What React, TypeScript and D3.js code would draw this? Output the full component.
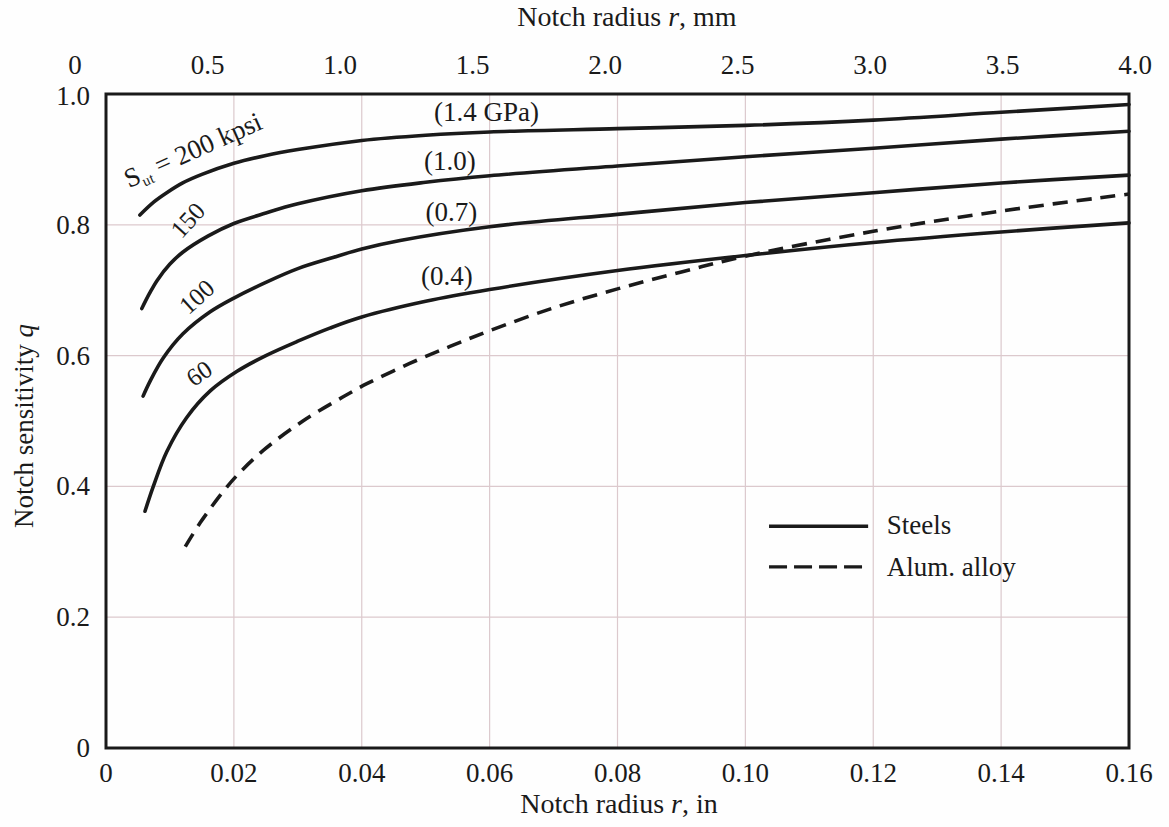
import React from "react";
import * as d3 from "d3";

// ---- data ----
const xTicksIn = [0, 0.02, 0.04, 0.06, 0.08, 0.1, 0.12, 0.14, 0.16];
const xTickLabelsIn = ["0", "0.02", "0.04", "0.06", "0.08", "0.10", "0.12", "0.14", "0.16"];
const xTicksMm = [0, 0.5, 1.0, 1.5, 2.0, 2.5, 3.0, 3.5, 4.0];
const xTickLabelsMm = ["0", "0.5", "1.0", "1.5", "2.0", "2.5", "3.0", "3.5", "4.0"];
const yTicks = [0, 0.2, 0.4, 0.6, 0.8, 1.0];
const yTickLabels = ["0", "0.2", "0.4", "0.6", "0.8", "1.0"];

// Steel, Sut = 200 kpsi (1.4 GPa)
const r200 = [0.0053, 0.0075, 0.0095, 0.012, 0.015, 0.02, 0.025, 0.03, 0.04, 0.05, 0.06, 0.08, 0.1, 0.12, 0.14, 0.16];
const q200 = [0.815, 0.835, 0.849, 0.864, 0.877, 0.894, 0.906, 0.915, 0.929, 0.937, 0.942, 0.947, 0.952, 0.96, 0.972, 0.984];
// Steel, 150 kpsi (1.0 GPa)
const r150 = [0.0056, 0.0068, 0.008, 0.01, 0.012, 0.016, 0.02, 0.025, 0.03, 0.04, 0.05, 0.06, 0.08, 0.1, 0.12, 0.14, 0.16];
const q150 = [0.672, 0.695, 0.715, 0.74, 0.758, 0.783, 0.802, 0.818, 0.832, 0.852, 0.865, 0.875, 0.89, 0.904, 0.917, 0.931, 0.943];
// Steel, 100 kpsi (0.7 GPa)
const r100 = [0.0058, 0.0069, 0.009, 0.012, 0.0163, 0.02, 0.025, 0.03, 0.0355, 0.04, 0.046, 0.06, 0.08, 0.1, 0.12, 0.14, 0.16];
const q100 = [0.538, 0.561, 0.597, 0.633, 0.667, 0.688, 0.712, 0.733, 0.75, 0.763, 0.776, 0.797, 0.816, 0.834, 0.849, 0.864, 0.876];
// Steel, 60 kpsi (0.4 GPa)
const r60 = [0.0061, 0.0074, 0.0095, 0.0126, 0.0163, 0.0205, 0.025, 0.03, 0.035, 0.04, 0.05, 0.06, 0.08, 0.1, 0.12, 0.14, 0.16];
const q60 = [0.362, 0.4, 0.453, 0.505, 0.546, 0.576, 0.6, 0.622, 0.642, 0.659, 0.683, 0.701, 0.73, 0.753, 0.773, 0.789, 0.803];
// Aluminum alloy
const rAl = [0.0124, 0.0147, 0.0184, 0.0207, 0.0246, 0.0308, 0.0371, 0.0408, 0.0475, 0.0538, 0.06, 0.07, 0.08, 0.09, 0.1, 0.12, 0.14, 0.16];
const qAl = [0.308, 0.344, 0.393, 0.419, 0.455, 0.5, 0.537, 0.557, 0.588, 0.614, 0.638, 0.673, 0.702, 0.728, 0.752, 0.79, 0.821, 0.847];

const steelSeries = [
  { name: "200", r: r200, q: q200 },
  { name: "150", r: r150, q: q150 },
  { name: "100", r: r100, q: q100 },
  { name: "60", r: r60, q: q60 },
];

const gpaLabels = [
  { text: "(1.4 GPa)", r: 0.0595, q: 0.958 },
  { text: "(1.0)", r: 0.0538, q: 0.884 },
  { text: "(0.7)", r: 0.054, q: 0.806 },
  { text: "(0.4)", r: 0.0533, q: 0.708 },
];
const kpsiLabels = [
  { text: "150", r: 0.0128, q: 0.807, angle: -48 },
  { text: "100", r: 0.0142, q: 0.69, angle: -42 },
  { text: "60", r: 0.01455, q: 0.573, angle: -35 },
];

const W = 1169;
const H = 827;
const FONT = "'Liberation Serif', 'Times New Roman', serif";
const INK = "#1a1a1a";

export default function App() {
  const x = d3.scaleLinear().domain([0, 0.16]).range([106, 1129]);
  const y = d3.scaleLinear().domain([0, 1]).range([748, 94]);
  const xTop = d3.scaleLinear().domain([0, 4]).range([75, 1135]);

  const line = d3
    .line<[number, number]>()
    .x((d) => x(d[0]))
    .y((d) => y(d[1]))
    .curve(d3.curveCatmullRom.alpha(0.5));

  const pts = (r: number[], q: number[]) => r.map((v, i) => [v, q[i]] as [number, number]);

  const [x0, x1] = x.range();
  const [y0, y1] = y.range();

  return (
    <svg
      width={W}
      height={H}
      viewBox={`0 0 ${W} ${H}`}
      style={{ position: "absolute", left: 0, top: 0, background: "#fefefe" }}
      fontFamily={FONT}
    >
      <rect x={0} y={0} width={W} height={H} fill="#fefefe" />
      {/* grid */}
      <g stroke="#dcc9cd" strokeWidth={1.2}>
        {xTicksIn.slice(1, -1).map((t) => (
          <line key={"gx" + t} x1={x(t)} x2={x(t)} y1={y1} y2={y0} />
        ))}
        {yTicks.slice(1, -1).map((t) => (
          <line key={"gy" + t} x1={x0} x2={x1} y1={y(t)} y2={y(t)} />
        ))}
      </g>

      {/* curves */}
      <g fill="none" stroke={INK} strokeWidth={3.6} strokeLinecap="round">
        {steelSeries.map((s) => (
          <path key={s.name} d={line(pts(s.r, s.q)) || ""} />
        ))}
        <path d={line(pts(rAl, qAl)) || ""} strokeDasharray="15 9" strokeLinecap="butt" />
      </g>

      {/* frame */}
      <rect x={x0} y={y1} width={x1 - x0} height={y0 - y1} fill="none" stroke={INK} strokeWidth={3} />

      {/* bottom and top ticks */}
      <g fontSize={27} fill={INK} textAnchor="middle">
        {xTicksIn.map((t, i) => (
          <text key={"bx" + t} x={x(t)} y={y0 + 34}>
            {xTickLabelsIn[i]}
          </text>
        ))}
        {xTicksMm.map((t, i) => (
          <text key={"tx" + t} x={xTop(t)} y={y1 - 20}>
            {xTickLabelsMm[i]}
          </text>
        ))}
      </g>
      {/* left ticks */}
      <g fontSize={27} fill={INK} textAnchor="end">
        {yTicks.map((t, i) => (
          <text key={"ly" + t} x={90} y={y(t) + (t === 1 ? 11 : 9)}>
            {yTickLabels[i]}
          </text>
        ))}
      </g>

      {/* axis titles */}
      <text x={627} y={26} fontSize={28} fill={INK} textAnchor="middle">
        Notch radius <tspan fontStyle="italic">r</tspan>, mm
      </text>
      <text x={619} y={813} fontSize={28} fill={INK} textAnchor="middle">
        Notch radius <tspan fontStyle="italic">r</tspan>, in
      </text>
      <text
        transform={`translate(33, ${(y0 + y1) / 2 + 5}) rotate(-90)`}
        fontSize={27}
        fill={INK}
        textAnchor="middle"
      >
        Notch sensitivity <tspan fontStyle="italic">q</tspan>
      </text>

      {/* curve labels */}
      <g fontSize={27} fill={INK} textAnchor="middle">
        {gpaLabels.map((l) => (
          <text key={l.text} x={x(l.r)} y={y(l.q)}>
            {l.text}
          </text>
        ))}
        {kpsiLabels.map((l) => (
          <text
            key={l.text}
            fontSize={25}
            transform={`translate(${x(l.r)}, ${y(l.q)}) rotate(${l.angle})`}
            dominantBaseline="central"
          >
            {l.text}
          </text>
        ))}
      </g>
      <text
        transform={`translate(${x(0.0036)}, ${y(0.856)}) rotate(-24)`}
        fontSize={27}
        fill={INK}
      >
        S
        <tspan fontSize={15} dy={5}>
          ut
        </tspan>
        <tspan dy={-5}> = 200 kpsi</tspan>
      </text>

      {/* legend */}
      <g>
        <line x1={x(0.1037)} x2={x(0.1192)} y1={y(0.339)} y2={y(0.339)} stroke={INK} strokeWidth={3.4} />
        <line
          x1={x(0.1037)}
          x2={x(0.1185)}
          y1={y(0.277)}
          y2={y(0.277)}
          stroke={INK}
          strokeWidth={3.4}
          strokeDasharray="18 7"
        />
        <text x={x(0.1221)} y={y(0.339) + 8} fontSize={27} fill={INK}>
          Steels
        </text>
        <text x={x(0.1221)} y={y(0.277) + 9} fontSize={27} fill={INK}>
          Alum. alloy
        </text>
      </g>
    </svg>
  );
}
